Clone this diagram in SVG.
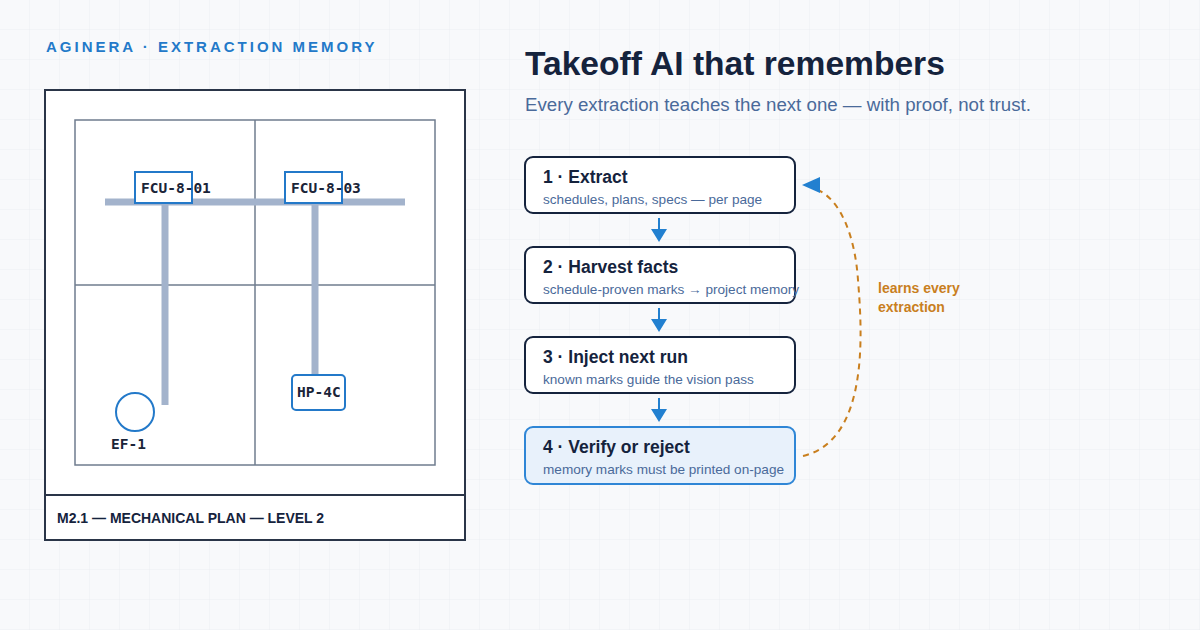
<svg xmlns="http://www.w3.org/2000/svg" width="1200" height="630" viewBox="0 0 1200 630">
<defs>
<pattern id="g" width="30" height="30" patternUnits="userSpaceOnUse"><path d="M30 0V30H0" fill="none" stroke="#eceef2" stroke-width="1"/></pattern>
<style>
.m{font-family:"DejaVu Sans Mono",monospace;font-weight:bold;font-size:14.5px;fill:#1a2438}
.tag{fill:#fff;stroke:#2379c9;stroke-width:2}
.pipe{stroke:#a3b3cc;stroke-width:7;fill:none}
.box{fill:#fff;stroke:#15233d;stroke-width:2}
.t{font-family:"Liberation Sans",sans-serif;font-weight:bold;font-size:17.5px;fill:#15233d}
.s{font-family:"Liberation Sans",sans-serif;font-size:13.6px;fill:#4a6a9a}
.ar{stroke:#2280d0;stroke-width:2}
.ah{fill:#2280d0}
</style>
</defs>
<rect width="1200" height="630" fill="#f8f9fb"/>
<rect width="1200" height="630" fill="url(#g)"/>
<text x="46" y="52" font-family="'Liberation Sans',sans-serif" font-weight="bold" font-size="15" letter-spacing="3" fill="#2379c9">AGINERA · EXTRACTION MEMORY</text>
<g id="plan">
<rect x="45" y="90" width="420" height="450" fill="#fff" stroke="#2a3548" stroke-width="2"/>
<line x1="45" y1="495" x2="465" y2="495" stroke="#2a3548" stroke-width="2"/>
<text x="57" y="523" font-family="'Liberation Sans',sans-serif" font-weight="bold" font-size="14" fill="#15233d">M2.1 — MECHANICAL PLAN — LEVEL 2</text>
<rect x="75" y="120" width="360" height="345" fill="none" stroke="#6f7c8e" stroke-width="1.5"/>
<line x1="255" y1="120" x2="255" y2="465" stroke="#6f7c8e" stroke-width="1.5"/>
<line x1="75" y1="285" x2="435" y2="285" stroke="#6f7c8e" stroke-width="1.5"/>
<path class="pipe" d="M105 202H405M165 202V405M315 202V375"/>
</g>
<g id="fcu1"><rect class="tag" x="135" y="172" width="57" height="31"/><text class="m" x="141" y="193">FCU-8-01</text></g>
<g id="fcu3"><rect class="tag" x="285" y="172" width="57" height="31"/><text class="m" x="291" y="193">FCU-8-03</text></g>
<g id="hp"><rect class="tag" x="292" y="375" width="53" height="35" rx="4"/><text class="m" x="297" y="397">HP-4C</text></g>
<g id="ef"><circle cx="135" cy="412" r="19" fill="#fff" stroke="#2379c9" stroke-width="2"/><text class="m" x="111" y="449">EF-1</text></g>
<text x="525" y="75" font-family="'Liberation Sans',sans-serif" font-weight="bold" font-size="33.6" fill="#15233d">Takeoff AI that remembers</text>
<text x="525" y="111" font-family="'Liberation Sans',sans-serif" font-size="18.7" fill="#4a6a9a">Every extraction teaches the next one — with proof, not trust.</text>
<g id="s1"><rect class="box" x="525" y="157" width="270" height="56" rx="8"/><text class="t" x="543" y="183">1 · Extract</text><text class="s" x="543" y="204">schedules, plans, specs — per page</text></g>
<g id="s2"><rect class="box" x="525" y="247" width="270" height="56" rx="8"/><text class="t" x="543" y="273">2 · Harvest facts</text><text class="s" x="543" y="294">schedule-proven marks → project memory</text></g>
<g id="s3"><rect class="box" x="525" y="337" width="270" height="56" rx="8"/><text class="t" x="543" y="363">3 · Inject next run</text><text class="s" x="543" y="384">known marks guide the vision pass</text></g>
<g id="s4"><rect x="525" y="427" width="270" height="57" rx="8" fill="#e8f1fb" stroke="#2f86d6" stroke-width="2"/><text class="t" x="543" y="453">4 · Verify or reject</text><text class="s" x="543" y="474">memory marks must be printed on-page</text></g>
<g id="connectors">
<path class="ar" d="M659 218V230M659 308V320M659 398V410"/>
<path class="ah" d="M651 229H667L659 242Z M651 319H667L659 332Z M651 409H667L659 422Z"/>
<path d="M803 456C870 440 862 330 858 280C855 235 840 200 818 190" fill="none" stroke="#c97f1e" stroke-width="2" stroke-dasharray="6 5"/>
<path class="ah" d="M802 185L820 177L820 193Z"/>
<text x="878" y="293" font-family="'Liberation Sans',sans-serif" font-weight="bold" font-size="14" fill="#c97f1e">learns every</text>
<text x="878" y="312" font-family="'Liberation Sans',sans-serif" font-weight="bold" font-size="14" fill="#c97f1e">extraction</text>
</g>
</svg>
